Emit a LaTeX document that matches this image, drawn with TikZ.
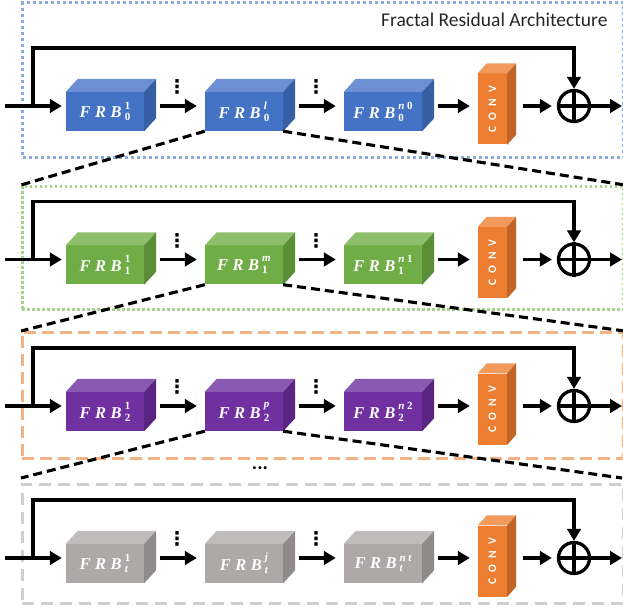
\documentclass[tikz,border=0pt]{standalone}
\usepackage{fontspec}
\setmainfont{Carlito}
\newfontfamily\frbfont{Liberation Serif}
\newfontfamily\dotsfont{DejaVu Sans}
\usetikzlibrary{arrows.meta,calc}

% block colours: front / top / side
\definecolor{blueF}{HTML}{4472C4}\definecolor{blueT}{HTML}{6D8FD4}\definecolor{blueS}{HTML}{375FA6}
\definecolor{greenF}{HTML}{70AD47}\definecolor{greenT}{HTML}{8DBF6B}\definecolor{greenS}{HTML}{5A8F38}
\definecolor{purpF}{HTML}{7030A0}\definecolor{purpT}{HTML}{8B59B2}\definecolor{purpS}{HTML}{5A2582}
\definecolor{grayF}{HTML}{ADA9A8}\definecolor{grayT}{HTML}{C0BCBB}\definecolor{grayS}{HTML}{8F8B8A}
\definecolor{convF}{HTML}{ED7D31}\definecolor{convT}{HTML}{F2995C}\definecolor{convS}{HTML}{C26428}
% frame colours
\definecolor{frameB}{HTML}{8EA9DB}\definecolor{frameG}{HTML}{A9D18E}
\definecolor{frameO}{HTML}{F4B183}\definecolor{frameK}{HTML}{D0CECE}

\tikzset{
  frb/.style={rectangle, inner sep=0pt, minimum width=78pt, minimum height=39pt,
    text=white, font=\frbfont\bfseries\itshape\fontsize{16.5}{16.5}\selectfont},
  convbox/.style={rectangle, inner sep=0pt, minimum width=29pt, minimum height=71pt, fill=convF},
  convtxt/.style={inner sep=0pt, text=white, font=\bfseries\fontsize{11.5}{11.5}\selectfont},
  sumnode/.style={circle, draw, line width=3.3pt, minimum size=31pt, inner sep=0pt},
  arr/.style={line width=3.1pt, -{Triangle[length=12pt,width=13.5pt]}},
  link/.style={arr, shorten <=16pt, shorten >=8pt},
  zoomline/.style={line width=3.1pt, dash pattern=on 9pt off 5pt},
  vdot/.style={inner sep=0pt, font=\dotsfont\bfseries\fontsize{19}{19}\selectfont},
  levelframe/.style={rectangle, anchor=north west, inner sep=0pt, minimum width=601pt},
  plusline/.style={line width=3.3pt},
}

% block label: F R B with a stacked upper and lower index
\newcommand\frblabel[2]{F\hspace{4.5pt}R\hspace{4.5pt}B\hspace{3pt}%
  \raisebox{-3pt}{\fontsize{11}{11}\selectfont\shortstack[l]{#1\\[1.5pt]#2}}}

% top and side faces of a box-shaped node: name, depth x, depth y, top colour, side colour
\newcommand\facesof[5]{%
  \fill[#4] (#1.north west) -- +(#2,-#3) -- ($(#1.north east)+(#2,-#3)$) -- (#1.north east) -- cycle;
  \fill[#5] (#1.north east) -- +(#2,-#3) -- ($(#1.south east)+(#2,-#3)$) -- (#1.south east) -- cycle;
}

\begin{document}
\begin{tikzpicture}[x=1pt, y=-1pt]
\useasboundingbox (0,0) rectangle (623,609);

% level frames
\node[levelframe, draw=frameB, line width=3.2pt, dash pattern=on 3pt off 3pt, minimum height=155pt] (F0) at (21,1) {};
\node[levelframe, draw=frameG, line width=2.8pt, dash pattern=on 2.5pt off 2.5pt, minimum height=123pt] (F1) at (21,185) {};
\node[levelframe, draw=frameO, line width=2.8pt, dash pattern=on 12pt off 6pt, minimum height=126pt] (F2) at (21,331) {};
\node[levelframe, draw=frameK, line width=2.8pt, dash pattern=on 12pt off 7pt, minimum height=119pt] (F3) at (21,483) {};

\node[anchor=base east, text=black!85, font=\fontsize{19.5}{19.5}\selectfont] (title) at (611,27) {Fractal Residual Architecture};

% ---------- level 0 ----------
\coordinate (in0) at (5,106);
\coordinate (br0) at (33,106);
\coordinate (top0) at (33,48);
\coordinate (out0) at (622,106);
\node[frb, fill=blueF] (a0) at (105,111.5) {\frblabel{\upshape 1}{\upshape 0}};
\facesof{a0}{12}{13}{blueT}{blueS}
\node[frb, fill=blueF] (b0) at (244,111.5) {\frblabel{l}{\upshape 0}};
\facesof{b0}{12}{13}{blueT}{blueS}
\node[frb, fill=blueF] (c0) at (383,111.5) {\frblabel{n\hspace{2.5pt}\upshape 0}{\upshape 0}};
\facesof{c0}{12}{13}{blueT}{blueS}
\node[convbox] (v0) at (492.5,109) {};
\facesof{v0}{9}{10}{convT}{convS}
\node[convtxt, rotate=90] (vt0) at (v0) {C\hspace{6pt}O\hspace{6pt}N\hspace{6pt}V};
\node[sumnode] (s0) at (574,106) {};
\draw[plusline] (s0.north) -- (s0.south);
\draw[plusline] (s0.west) -- (s0.east);
\draw[arr, shorten >=4pt] (in0) -- (a0.west |- in0);
\draw[arr] (br0) -- (top0) -| (s0.north);
\draw[link] (a0.east |- in0) -- (b0.west |- in0);
\draw[link] (b0.east |- in0) -- (c0.west |- in0);
\draw[link] (c0.east |- in0) -- (v0.west |- in0);
\draw[arr, shorten <=16pt, shorten >=5pt] (v0.east |- in0) -- (s0.west);
\draw[arr] (s0.east) -- (out0);
\node[vdot] (p0) at (177,87) {⋮};
\node[vdot] (q0) at (316,87) {⋮};

% ---------- level 1 ----------
\coordinate (in1) at (5,259.5);
\coordinate (br1) at (33,259.5);
\coordinate (top1) at (33,201.5);
\coordinate (out1) at (622,259.5);
\node[frb, fill=greenF] (a1) at (105,265) {\frblabel{\upshape 1}{\upshape 1}};
\facesof{a1}{12}{13}{greenT}{greenS}
\node[frb, fill=greenF] (b1) at (244,265) {\frblabel{m}{\upshape 1}};
\facesof{b1}{12}{13}{greenT}{greenS}
\node[frb, fill=greenF] (c1) at (383,265) {\frblabel{n\hspace{2.5pt}\upshape 1}{\upshape 1}};
\facesof{c1}{12}{13}{greenT}{greenS}
\node[convbox] (v1) at (492.5,262.5) {};
\facesof{v1}{9}{10}{convT}{convS}
\node[convtxt, rotate=90] (vt1) at (v1) {C\hspace{6pt}O\hspace{6pt}N\hspace{6pt}V};
\node[sumnode] (s1) at (574,259.5) {};
\draw[plusline] (s1.north) -- (s1.south);
\draw[plusline] (s1.west) -- (s1.east);
\draw[arr, shorten >=4pt] (in1) -- (a1.west |- in1);
\draw[arr] (br1) -- (top1) -| (s1.north);
\draw[link] (a1.east |- in1) -- (b1.west |- in1);
\draw[link] (b1.east |- in1) -- (c1.west |- in1);
\draw[link] (c1.east |- in1) -- (v1.west |- in1);
\draw[arr, shorten <=16pt, shorten >=5pt] (v1.east |- in1) -- (s1.west);
\draw[arr] (s1.east) -- (out1);
\node[vdot] (p1) at (177,240.5) {⋮};
\node[vdot] (q1) at (316,240.5) {⋮};

% ---------- level 2 ----------
\coordinate (in2) at (5,406);
\coordinate (br2) at (33,406);
\coordinate (top2) at (33,348);
\coordinate (out2) at (622,406);
\node[frb, fill=purpF] (a2) at (105,411.5) {\frblabel{\upshape 1}{\upshape 2}};
\facesof{a2}{12}{13}{purpT}{purpS}
\node[frb, fill=purpF] (b2) at (244,411.5) {\frblabel{p}{\upshape 2}};
\facesof{b2}{12}{13}{purpT}{purpS}
\node[frb, fill=purpF] (c2) at (383,411.5) {\frblabel{n\hspace{2.5pt}\upshape 2}{\upshape 2}};
\facesof{c2}{12}{13}{purpT}{purpS}
\node[convbox] (v2) at (492.5,409) {};
\facesof{v2}{9}{10}{convT}{convS}
\node[convtxt, rotate=90] (vt2) at (v2) {C\hspace{6pt}O\hspace{6pt}N\hspace{6pt}V};
\node[sumnode] (s2) at (574,406) {};
\draw[plusline] (s2.north) -- (s2.south);
\draw[plusline] (s2.west) -- (s2.east);
\draw[arr, shorten >=4pt] (in2) -- (a2.west |- in2);
\draw[arr] (br2) -- (top2) -| (s2.north);
\draw[link] (a2.east |- in2) -- (b2.west |- in2);
\draw[link] (b2.east |- in2) -- (c2.west |- in2);
\draw[link] (c2.east |- in2) -- (v2.west |- in2);
\draw[arr, shorten <=16pt, shorten >=5pt] (v2.east |- in2) -- (s2.west);
\draw[arr] (s2.east) -- (out2);
\node[vdot] (p2) at (177,387) {⋮};
\node[vdot] (q2) at (316,387) {⋮};

% ---------- level t ----------
\coordinate (in3) at (5,558);
\coordinate (br3) at (33,558);
\coordinate (top3) at (33,500);
\coordinate (out3) at (622,558);
\node[frb, fill=grayF] (a3) at (105,563.5) {\frblabel{\upshape 1}{t}};
\facesof{a3}{12}{13}{grayT}{grayS}
\node[frb, fill=grayF] (b3) at (244,563.5) {\frblabel{j}{t}};
\facesof{b3}{12}{13}{grayT}{grayS}
\node[frb, fill=grayF] (c3) at (383,563.5) {\frblabel{n\hspace{2.5pt}t}{t}};
\facesof{c3}{12}{13}{grayT}{grayS}
\node[convbox] (v3) at (492.5,561) {};
\facesof{v3}{9}{10}{convT}{convS}
\node[convtxt, rotate=90] (vt3) at (v3) {C\hspace{6pt}O\hspace{6pt}N\hspace{6pt}V};
\node[sumnode] (s3) at (574,558) {};
\draw[plusline] (s3.north) -- (s3.south);
\draw[plusline] (s3.west) -- (s3.east);
\draw[arr, shorten >=4pt] (in3) -- (a3.west |- in3);
\draw[arr] (br3) -- (top3) -| (s3.north);
\draw[link] (a3.east |- in3) -- (b3.west |- in3);
\draw[link] (b3.east |- in3) -- (c3.west |- in3);
\draw[link] (c3.east |- in3) -- (v3.west |- in3);
\draw[arr, shorten <=16pt, shorten >=5pt] (v3.east |- in3) -- (s3.west);
\draw[arr] (s3.east) -- (out3);
\node[vdot] (p3) at (177,539) {⋮};
\node[vdot] (q3) at (316,539) {⋮};

% zoom-in lines from one level to the next
\coordinate (zl) at (21,478);
\coordinate (zr) at (622,478);
\draw[zoomline] (b0.south west) -- (F1.north west);
\draw[zoomline] (b0.south east) -- (F1.north east);
\draw[zoomline] (b1.south west) -- (F2.north west);
\draw[zoomline] (b1.south east) -- (F2.north east);
\draw[zoomline] (b2.south west) -- (zl);
\draw[zoomline] (b2.south east) -- (zr);

\node[inner sep=0pt, font=\bfseries\fontsize{20}{20}\selectfont] (more) at (260,468) {...};
\end{tikzpicture}
\end{document}
